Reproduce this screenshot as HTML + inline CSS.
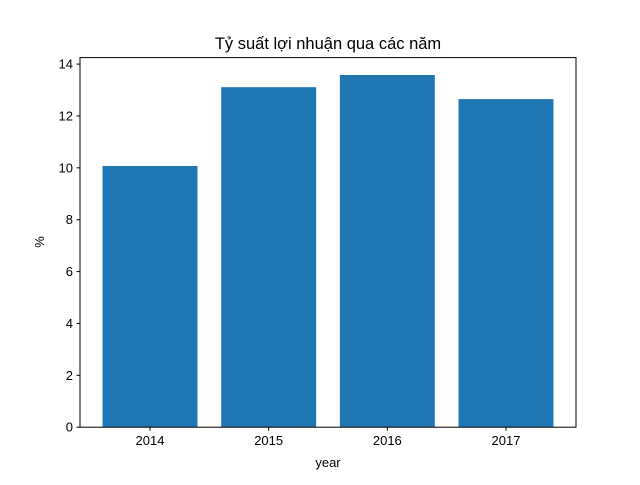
<!DOCTYPE html>
<html><head><meta charset="utf-8"><style>
body{margin:0;background:#fff}
svg{font-family:"Liberation Sans","DejaVu Sans",sans-serif}
</style></head><body>
<svg id="chart" width="640" height="480">
<rect width="640" height="480" fill="#fff"/>
<text x="328" y="49" text-anchor="middle" font-size="16.5" fill="#000">Tỷ suất lợi nhuận qua các năm</text>
<g id="bars"></g><g id="xt"></g><g id="yt"></g>
<rect x="80" y="57.6" width="496" height="369.6" fill="none" stroke="#000" stroke-width="1"/>
<text x="328" y="467" text-anchor="middle" font-size="13">year</text>
<text transform="translate(44,242) rotate(-90)" text-anchor="middle" font-size="13">%</text>
</svg>
<script>
const categories=["2014","2015","2016","2017"];
const values=[10.07,13.11,13.58,12.65];
const yTicks=[0,2,4,6,8,10,12,14];
const ns="http://www.w3.org/2000/svg";
const L=80,R=576,T=57.6,B=427.2,xmin=-0.59,xmax=3.59,ymax=14.25;
const xs=v=>L+(v-xmin)/(xmax-xmin)*(R-L);
const ys=v=>B-v/ymax*(B-T);
function mk(t,a,p){const e=document.createElementNS(ns,t);for(const k in a)e.setAttribute(k,a[k]);p.appendChild(e);return e;}
const bars=document.getElementById('bars'),xt=document.getElementById('xt'),yt=document.getElementById('yt');
categories.forEach((c,i)=>{
 const r=mk('rect',{x:xs(i-0.4),y:ys(values[i]),width:xs(i+0.4)-xs(i-0.4),height:B-ys(values[i]),fill:'#1f77b4'},bars);
 
 
 const l=mk('line',{x1:xs(i),x2:xs(i),y1:B,y2:B+3.5,stroke:'#000'},xt);
 
 
 const t=mk('text',{x:xs(i),y:B+18,'text-anchor':'middle','font-size':'13'},xt);
 t.textContent=c;
 
 
});
yTicks.forEach(v=>{
 const l=mk('line',{x1:L-3.5,x2:L,y1:ys(v),y2:ys(v),stroke:'#000'},yt);
 
 
 const t=mk('text',{x:L-7,y:ys(v)+4.5,'text-anchor':'end','font-size':'13'},yt);
 t.textContent=v;
 
 
});
</script>
</body></html>
